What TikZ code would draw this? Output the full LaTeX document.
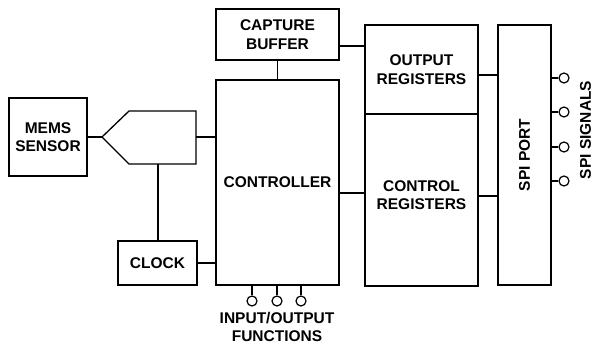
\documentclass[tikz,border=0pt]{standalone}
\usepackage{fontspec}
\setmainfont{Liberation Sans}
\begin{document}
\begin{tikzpicture}[x=1pt,y=-1pt, line width=1.3pt,
  txt/.style={font=\bfseries\fontsize{15.5}{18.5}\selectfont, align=center, inner sep=0pt},
  box/.style={txt, draw, line width=1.3pt},
  pin/.style={draw, circle, minimum size=10pt, inner sep=0pt, line width=1.2pt}]
\useasboundingbox (0,0) rectangle (594,344);
% blocks
\node[box, minimum width=78pt, minimum height=78pt] (mems) at (48,137) {MEMS\\SENSOR};
\node[box, minimum width=123pt, minimum height=51pt] (buf) at (277.5,34.5) {CAPTURE\\BUFFER};
\node[box, minimum width=123pt, minimum height=205pt] (ctrl) at (277.5,182.5) {CONTROLLER};
\node[box, minimum width=79pt, minimum height=44pt] (clk) at (157.5,263) {CLOCK};
\node[box, minimum width=113pt, minimum height=89pt] (outr) at (421.5,69.5) {OUTPUT\\REGISTERS};
\node[box, minimum width=113pt, minimum height=172pt] (ctlr) at (421.5,200) {};
\node[txt] (ctlrtxt) at (421.5,195) {CONTROL\\REGISTERS};
\node[box, minimum width=53pt, minimum height=260pt] (spi) at (524.5,155) {\rotatebox{90}{SPI PORT}};
% converter shape
\coordinate (tip) at (102,137);
\coordinate (pr) at (196,137);
\coordinate (pb) at (158,164);
\draw[line join=miter] (tip) -- (129,111) -- (196,111) -- (196,164) -- (129,164) -- cycle;
% connectors
\draw (mems.east) -- (tip);
\draw (pr) -- (pr -| ctrl.west);
\draw (pb) -- (pb |- clk.north);
\draw (clk.east) -- (clk.east -| ctrl.west);
\draw (buf.south) -- (buf.south |- ctrl.north);
\draw ([yshift=-11.5pt]buf.east) -- ([yshift=-11.5pt]buf.east -| outr.west);
\draw ([yshift=-10.5pt]ctrl.east) -- ([yshift=-10.5pt]ctrl.east -| ctlr.west);
\draw ([yshift=-5.5pt]outr.east) -- ([yshift=-5.5pt]outr.east -| spi.west);
\draw ([yshift=4pt]ctlr.east) -- ([yshift=4pt]ctlr.east -| spi.west);
% SPI pins
\foreach \i/\y in {1/78,2/112,3/147,4/181}{
  \node[pin] (s\i) at (564,\y) {};
  \draw (s\i.west) -- (s\i.west -| spi.east);
}
\node[txt] (spisig) at (585.5,130) {\rotatebox{90}{SPI SIGNALS}};
% IO pins
\foreach \i/\x in {1/252,2/277,3/301}{
  \node[pin] (p\i) at (\x,301) {};
  \draw (p\i.north) -- (p\i.north |- ctrl.south);
}
\node[txt] (io) at (277,327) {INPUT/OUTPUT\\FUNCTIONS};
\end{tikzpicture}
\end{document}
